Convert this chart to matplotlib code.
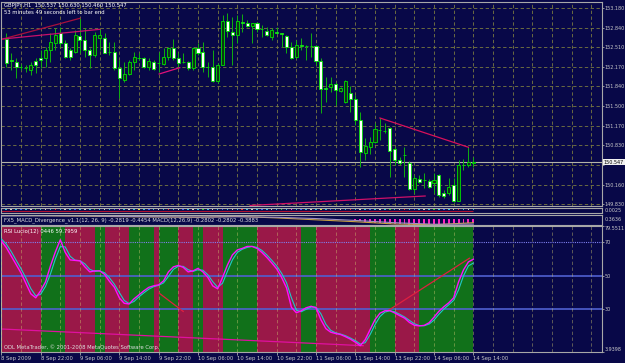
import numpy as np
import matplotlib
matplotlib.use("Agg")
import matplotlib.pyplot as plt
from matplotlib.transforms import blended_transform_factory

# ---- candles (GBPJPY H1), bars 1..96 ----
bar_open = [152.650, 152.292, 152.257, 152.172, 152.155, 152.121, 152.275, 152.326, 152.326, 152.462,
            152.582, 152.753, 152.582, 152.462, 152.428, 152.702, 152.633, 152.462, 152.377, 152.668,
            152.668, 152.428, 152.428, 152.155, 151.950, 152.052, 152.257, 152.326, 152.326, 152.172,
            152.257, 152.240, 152.223, 152.343, 152.497, 152.326, 152.257, 152.257, 152.155, 152.497,
            152.428, 152.172, 152.172, 151.933, 152.206, 152.958, 152.770, 152.719, 152.941, 152.924,
            152.873, 152.924, 152.821, 152.787, 152.685, 152.770, 152.753, 152.702, 152.514, 152.343,
            152.548, 152.531, 152.531, 152.531, 152.275, 151.813, 151.830, 151.881, 151.762, 151.574,
            151.728, 151.625, 151.266, 150.702, 150.805, 150.890, 151.095, 151.078, 151.129, 150.771,
            150.583, 150.668, 150.531, 150.087, 150.258, 150.241, 150.224, 150.190, 150.326, 150.019,
            150.019, 150.155, 149.882, 150.497, 150.497, 150.537]
bar_high = [152.753, 152.411, 152.326, 152.223, 152.206, 152.257, 152.326, 152.462, 152.514, 152.753,
            152.838, 152.856, 152.633, 152.497, 152.804, 153.009, 152.838, 152.497, 152.770, 152.838,
            152.753, 152.599, 152.599, 152.292, 152.257, 152.292, 152.428, 152.411, 152.343, 152.326,
            152.292, 152.428, 152.497, 152.514, 152.650, 152.411, 152.411, 152.275, 152.514, 152.582,
            152.599, 152.257, 152.462, 152.240, 153.061, 153.095, 153.026, 153.061, 153.078, 152.975,
            152.924, 152.941, 152.890, 152.856, 152.838, 152.856, 152.753, 152.719, 152.599, 152.633,
            152.668, 152.548, 152.753, 152.548, 152.326, 152.001, 152.001, 151.916, 151.830, 151.950,
            151.847, 151.693, 151.403, 150.959, 150.976, 151.215, 151.300, 151.215, 151.147, 150.805,
            150.634, 150.805, 150.566, 150.326, 150.326, 150.360, 150.258, 150.360, 150.343, 150.070,
            150.275, 150.275, 150.583, 150.600, 150.805, 150.630]
bar_low = [152.172, 152.121, 151.984, 152.121, 152.087, 152.035, 152.069, 152.155, 152.172, 152.257,
           152.462, 152.514, 152.326, 152.292, 152.411, 152.411, 152.343, 152.155, 152.343, 152.462,
           152.411, 152.377, 152.121, 151.642, 151.916, 152.035, 152.121, 152.292, 152.155, 152.121,
           152.121, 152.087, 152.206, 152.292, 152.292, 152.172, 152.240, 152.121, 152.121, 152.377,
           152.087, 152.001, 151.916, 151.899, 152.206, 152.685, 152.206, 152.582, 152.770, 152.856,
           152.582, 152.770, 152.685, 152.702, 152.633, 152.736, 152.514, 152.411, 152.309, 152.326,
           152.462, 152.292, 152.343, 152.206, 151.386, 151.574, 151.745, 151.523, 151.745, 151.557,
           151.403, 151.181, 150.463, 150.583, 150.685, 150.873, 150.924, 151.044, 150.292, 150.497,
           150.497, 150.292, 150.070, 150.019, 150.190, 150.104, 150.104, 150.019, 149.950, 149.933,
           149.984, 149.865, 149.882, 150.412, 150.463, 150.460]
bar_close = [152.240, 152.275, 152.172, 152.164, 152.146, 152.206, 152.206, 152.292, 152.462, 152.599,
             152.719, 152.582, 152.343, 152.343, 152.719, 152.633, 152.462, 152.377, 152.719, 152.719,
             152.411, 152.420, 152.155, 151.984, 152.052, 152.257, 152.343, 152.317, 152.172, 152.275,
             152.138, 152.232, 152.343, 152.497, 152.326, 152.240, 152.249, 152.155, 152.497, 152.411,
             152.172, 152.164, 151.933, 152.206, 152.958, 152.787, 152.719, 152.958, 152.932, 152.873,
             152.924, 152.821, 152.813, 152.719, 152.804, 152.753, 152.744, 152.514, 152.326, 152.548,
             152.539, 152.522, 152.522, 152.275, 151.796, 151.796, 151.881, 151.779, 151.813, 151.933,
             151.625, 151.266, 150.719, 150.822, 150.890, 151.112, 151.087, 151.070, 150.736, 150.583,
             150.531, 150.660, 150.087, 150.275, 150.207, 150.232, 150.121, 150.241, 149.984, 149.967,
             150.121, 149.882, 150.497, 150.489, 150.548, 150.547]
bid_price = 150.547

price_ticks = [153.180, 152.840, 152.510, 152.170, 151.840, 151.500, 151.170, 150.830, 150.500, 150.160, 149.830]
price_labels = ["153.180", "152.840", "152.510", "152.170", "151.840", "151.500", "151.170", "150.830", "",
                "150.160", "149.830"]

# trend lines drawn on the price chart: (bar indices, prices)
price_lines = [
    ([0.28, 16.0], [152.650, 153.004], "#a8103c"),
    ([0.28, 20.1], [152.650, 152.816], "#c8106a"),
    ([32.1, 36.3], [152.052, 152.160], "#e0107a"),
    ([77.0, 95.0], [151.300, 150.800], "#d8105a"),
    ([50.6, 86.2], [149.805, 149.967], "#d01068"),
]

# ---- RSI panel, bars 0..96 ----
rsi_main = [70.8, 66.9, 61.8, 56.7, 51.6, 45.3, 39.0, 36.6, 40.8, 46.2,
            55.8, 64.2, 71.5, 63.9, 59.4, 59.1, 58.8, 55.2, 52.2, 52.8,
            52.8, 50.7, 46.5, 42.9, 36.6, 33.3, 32.9, 36.0, 38.4, 40.8,
            42.9, 43.8, 44.4, 46.8, 52.2, 55.2, 56.1, 54.9, 52.2, 52.8,
            54.3, 52.2, 48.9, 43.8, 42.0, 48.9, 56.4, 62.4, 65.4, 66.3,
            67.5, 67.5, 66.3, 63.9, 60.9, 57.6, 54.0, 48.9, 42.6, 30.9,
            27.6, 28.8, 30.6, 31.5, 30.6, 23.4, 18.1, 15.9, 15.1, 14.5,
            13.2, 11.7, 9.9, 7.8, 11.4, 17.4, 23.4, 27.3, 28.8, 28.9,
            27.5, 25.9, 24.4, 21.8, 20.1, 19.7, 20.0, 21.6, 24.9, 28.5,
            31.2, 33.6, 36.6, 46.2, 53.4, 58.2, 59.8]
rsi_signal = [72.0, 69.0, 64.5, 59.3, 54.2, 48.5, 42.2, 37.8, 38.7, 43.5,
              51.0, 60.0, 67.4, 67.2, 61.6, 59.2, 59.0, 57.0, 53.7, 52.5,
              52.8, 51.7, 48.6, 44.7, 39.8, 35.0, 33.1, 34.4, 37.2, 39.6,
              41.8, 43.3, 44.1, 45.6, 49.5, 53.7, 55.6, 55.5, 53.5, 52.5,
              53.5, 53.2, 50.5, 46.3, 42.9, 45.4, 52.6, 59.4, 63.9, 65.8,
              66.9, 67.5, 66.9, 65.1, 62.4, 59.2, 55.8, 51.4, 45.7, 36.7,
              29.2, 28.2, 29.7, 31.0, 31.0, 27.0, 20.7, 17.0, 15.5, 14.8,
              13.8, 12.4, 10.8, 8.8, 9.6, 14.4, 20.4, 25.3, 28.0, 28.8,
              28.2, 26.7, 25.1, 23.0, 21.0, 19.9, 19.8, 20.8, 23.2, 26.7,
              29.8, 32.4, 35.1, 41.4, 49.8, 55.8, 57.5]
rsi_min, rsi_max = 3.9398, 79.5511
rsi_levels = [70, 50, 30]

# background state bands (edges in bars, 1 = green, 0 = red)
band_edges = [0, 8, 13, 19, 21, 26, 31, 32, 36, 39, 41, 45, 52, 61, 64, 75, 80, 85, 96]
band_up = [0, 1, 0, 1, 0, 1, 0, 1, 0, 1, 0, 1, 0, 1, 0, 1, 0, 1]

rsi_lines = [
    ([32.1, 37.0], [39.4, 28.4], "#e02040"),
    ([78.4, 95.2], [28.4, 60.4], "#e02040"),
    ([0.28, 73.6], [17.8, 7.8], "#e010a0"),
]

# ---- MACD divergence strip ----
macd_bars = [0, 8, 16, 24, 32, 40, 48, 56, 64, 72, 80, 88, 96]
macd_main = [0.30, 0.28, 0.25, 0.20, 0.18, 0.15, 0.22, 0.10, -0.05, -0.20, -0.38, -0.44, -0.28]
macd_sig = [0.25, 0.27, 0.26, 0.22, 0.19, 0.17, 0.19, 0.15, 0.05, -0.10, -0.28, -0.40, -0.39]
hist_vals = [-0.10, -0.15, -0.20, -0.25, -0.30, -0.30, -0.32, -0.35, -0.38, -0.40, -0.42, -0.44, -0.44,
             -0.43, -0.42, -0.42, -0.41, -0.40, -0.40, -0.39, -0.37, -0.35, -0.33, -0.30, -0.28]
hist_start = 72

# top strip: colour code per bar
strip_code = "wcwcbcwgcwcrcwcbcwcgcwcbmcwcycbcwcrcwbcwcgcwcbcwcrcwcbcwcgcmcbcwcycbcwcrcwcbcwcgcwrcbcwcgcbcwrcwcb"

time_labels = ["8 Sep 2009", "8 Sep 22:00", "9 Sep 06:00", "9 Sep 14:00", "9 Sep 22:00", "10 Sep 06:00",
               "10 Sep 14:00", "10 Sep 22:00", "11 Sep 06:00", "11 Sep 14:00", "13 Sep 22:00",
               "14 Sep 06:00", "14 Sep 14:00"]

# ---- look ----
NAVY = "#080848"
SPINE = "#a8a8a8"
GRID = "#7a7a40"
LBL = "#c8c8c8"
WICK = "#10b010"
EDGE = "#00e000"
FS = 3.8
FS_R = 3.55
W, H = 625.0, 363.0
BAR_PX, BAR0_PX = 4.917, 1.3
LEFT_PX, RIGHT_PX = 1.0, 602.0
X0 = (LEFT_PX - BAR0_PX) / BAR_PX
X1 = (RIGHT_PX - BAR0_PX) / BAR_PX

fig = plt.figure(figsize=(6.25, 3.63), dpi=100, facecolor=NAVY)


def panel(top, bottom):
    ax = fig.add_axes([LEFT_PX / W, 1 - bottom / H, (RIGHT_PX - LEFT_PX) / W, (bottom - top) / H])
    ax.set_facecolor(NAVY)
    for s in ax.spines.values():
        s.set_color(SPINE)
        s.set_linewidth(0.8)
    ax.set_xlim(X0, X1)
    return ax


# price chart
ax = panel(1.5, 206)
ax.set_ylim(149.796, 153.291)
ax.set_xticks(np.arange(0, 123, 4))
ax.set_yticks(price_ticks)
ax.set_yticklabels(price_labels)
ax.yaxis.tick_right()
ax.tick_params(axis="x", length=0, labelbottom=False)
ax.tick_params(axis="y", length=1.5, width=0.6, color=SPINE, pad=0.4, labelsize=FS_R, labelcolor=LBL)
ax.grid(True, color=GRID, lw=0.6, ls=(0, (4, 3)))

bars = np.arange(1, len(bar_open) + 1)
o, hi, lo, c = (np.array(v) for v in (bar_open, bar_high, bar_low, bar_close))
up = c > o
ax.axhline(bid_price, color="#b4b4a8", lw=0.8, zorder=1.6)
ax.vlines(bars, lo, hi, color=WICK, lw=0.7, zorder=2)
ax.bar(bars[up], c[up] - o[up], bottom=o[up], width=0.62, color="#0b3414", edgecolor=EDGE, lw=0.6, zorder=3)
ax.bar(bars[~up], c[~up] - o[~up], bottom=o[~up], width=0.62, color="white", edgecolor=EDGE, lw=0.6, zorder=3)
for xs, ys, col in price_lines:
    ax.plot(xs, ys, color=col, lw=0.9, zorder=4)

tr = blended_transform_factory(ax.transAxes, ax.transData)
ax.text(1.003, bid_price, "150.547", transform=tr, fontsize=FS_R, color="black", va="center", ha="left",
        bbox=dict(boxstyle="square,pad=0.12", fc="#f0f0f0", ec="none"), clip_on=False)

fig.text(4 / W, 1 - 6 / H, "GBPJPY,H1  150.537 150.630 150.460 150.547", fontsize=FS, color="white", va="center")
fig.text(4 / W, 1 - 13 / H, "53 minutes 49 seconds left to bar end", fontsize=FS, color="white", va="center")

# top indicator strip
ax_a = panel(207.5, 213)
ax_a.set_ylim(0, 1)
ax_a.set_xticks([])
ax_a.set_yticks([])
all_bars = np.arange(0, len(rsi_main))
cmap = {"w": "#d0d0d0", "c": "#30c0e0", "b": "#4060ff", "r": "#ff3030", "g": "#30d030",
        "m": "#ff40ff", "y": "#e0e040"}
ax_a.hlines(0.42, 0, all_bars[-1], color="#b01030", lw=0.8)
ax_a.scatter(all_bars, np.full(len(all_bars), 0.62), c=[cmap[k] for k in strip_code[:len(all_bars)]],
             s=1.2, marker="s", lw=0)
ax_a.text(1.004, 0.5, "0.0025", transform=ax_a.transAxes, fontsize=FS_R, color=LBL, va="center", clip_on=False)

# MACD divergence strip
ax_b = panel(214.5, 225)
ax_b.set_ylim(-0.46, 0.37)
ax_b.set_xticks([])
ax_b.set_yticks([])
hb = np.arange(hist_start, hist_start + len(hist_vals))
ax_b.bar(hb, hist_vals, width=0.4, color="#ff20c0", lw=0)
ax_b.plot(macd_bars, macd_main, color="#c8a040", lw=0.8)
ax_b.plot(macd_bars, macd_sig, color="#a090c0", lw=0.8)
ax_b.text(1.004, 0.5, "0.3636", transform=ax_b.transAxes, fontsize=FS_R, color=LBL, va="center", clip_on=False)
fig.text(4 / W, 1 - 220.5 / H,
         "FX5_MACD_Divergence_v1.1(12, 26, 9) -0.2819 -0.4454 MACD(12,26,9) -0.2802 -0.2802 -0.3883",
         fontsize=FS, color="#e0e0e0", va="center")

# RSI panel
ax_r = panel(226.4, 352.1)
ax_r.set_ylim(rsi_min, rsi_max)
for k in range(len(band_up)):
    ax_r.axvspan(band_edges[k], band_edges[k + 1], color="#11711a" if band_up[k] else "#9a1848", lw=0, zorder=0)
for lv in rsi_levels:
    if lv == 70:
        ax_r.axhline(lv, color="#8080f0", lw=0.8, ls=(0, (1, 1)), zorder=2)
    else:
        ax_r.axhline(lv, color="#5060d0", lw=1.2, zorder=2)
for xs, ys, col in rsi_lines:
    ax_r.plot(xs, ys, color=col, lw=0.9, zorder=3)
ax_r.plot(all_bars, rsi_signal, color="#20c8c8", lw=0.8, zorder=4)
ax_r.plot(all_bars, rsi_main, color="#ff10ff", lw=1.0, zorder=5)

ax_r.set_xticks(np.arange(0, len(time_labels) * 8, 8))
ax_r.set_xticklabels(time_labels)
ax_r.set_xticks(np.arange(0, 123, 4), minor=True)
ax_r.tick_params(axis="x", which="major", length=2, width=0.6, color=SPINE, pad=0.5, labelsize=FS,
                 labelcolor=LBL)
ax_r.tick_params(axis="x", which="minor", length=0)
for t in ax_r.get_xticklabels():
    t.set_ha("left")
ax_r.set_axisbelow(False)
ax_r.grid(True, axis="x", which="both", color="#d0c870", alpha=0.5, lw=0.6, ls=(0, (4, 3)))

ax_r.set_yticks([rsi_min, 30, 50, 70, rsi_max])
ax_r.set_yticklabels(["3.9398", "30", "50", "70", "79.5511"])
ax_r.yaxis.tick_right()
ax_r.tick_params(axis="y", length=1.5, width=0.6, color=SPINE, pad=0.4, labelsize=FS_R, labelcolor=LBL)
ylbls = ax_r.get_yticklabels()
ylbls[0].set_va("bottom")
ylbls[-1].set_va("top")

fig.text(4 / W, 1 - 232 / H, "RSI Lucio(12) 0446 59.7959", fontsize=FS, color="white", va="center")
fig.text(4 / W, 1 - 347.5 / H, "ODL MetaTrader, \u00a9 2001-2008 MetaQuotes Software Corp.", fontsize=FS,
         color="#e0e0e0", va="center")

fig.savefig("out.png", dpi=100, facecolor=NAVY)
